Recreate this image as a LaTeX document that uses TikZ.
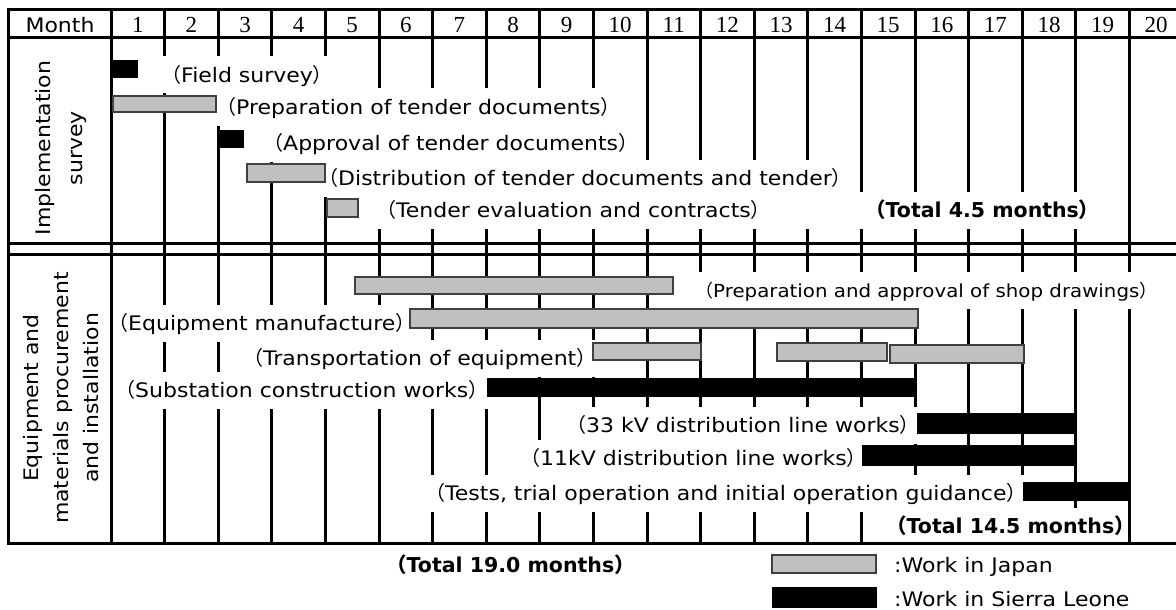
\documentclass[tikz,border=0pt]{standalone}
\usepackage{fontspec}
\newfontfamily\labfont[FakeStretch=1.1]{DejaVu Sans}
\newfontfamily\totfont{DejaVu Sans}
\newfontfamily\cjkfont{Noto Sans CJK JP}
\newfontfamily\numfont{Liberation Serif}
\newcommand\lp{{\cjkfont （}}
\newcommand\rp{{\cjkfont ）}}
\newcommand\labsize{\fontsize{20pt}{24pt}\selectfont}
\newcommand\totsize{\fontsize{20.5pt}{24pt}\selectfont}
\definecolor{barg}{HTML}{C0C0C0}
\begin{document}
\begin{tikzpicture}[x=1pt,y=-1pt,
  gline/.style={line width=3pt},
  fline/.style={line width=3pt, line cap=rect},
  lbl/.style={font=\labfont\labsize, fill=white, anchor=base west, inner xsep=3pt, inner ysep=0pt,
              text height=17pt, text depth=3pt, minimum height=37pt},
  tot/.style={lbl, font=\totfont\bfseries\totsize},
  num/.style={font=\numfont\fontsize{23pt}{26pt}\selectfont, anchor=base, inner sep=0pt},
  side/.style={font=\labfont\labsize, rotate=90, align=center, inner sep=0pt},
  jpbar/.style={fill=barg, draw=black!75, line width=1.3pt},
  slbar/.style={fill=black, draw=black, line width=0.6pt}]
\path[use as bounding box] (0,0) rectangle (1176,610);

% interior month grid lines
\foreach \k in {1,...,18}
  \draw[gline] ({111+53.6*\k},10) -- ({111+53.6*\k},543);

% activity labels (white boxes interrupt the grid)
\def\d{15}
\node[lbl] (fs)  at (173-\d,82)  {\lp Field survey\rp};
\node[lbl] (ptd) at (228-\d,114) {\lp Preparation of tender documents\rp};
\node[lbl] (atd) at (275-\d,150) {\lp Approval of tender documents\rp};
\node[lbl] (dtd) at (330-\d,185) {\lp Distribution of tender documents and tender\rp};
\node[lbl] (tec) at (388-\d,217) {\lp Tender evaluation and contracts\rp};
\node[tot] (tot1) at (877-\d-70,217) {\hspace*{70pt}\lp Total 4.5 months\rp};
\node[lbl] (em)  at (120-\d,330) {\lp Equipment manufacture\rp};
\node[lbl] (te)  at (255-\d,365) {\lp Transportation of equipment\rp};
\node[lbl] (scw) at (127-\d,397) {\lp Substation construction works\rp};
\node[lbl] (kv33) at (578-\d,432) {\lp 33 kV distribution line works\rp};
\node[lbl] (kv11) at (532-\d,465) {\lp 11kV distribution line works\rp};
\node[lbl] (tests) at (437-\d,500) {\lp Tests, trial operation and initial operation guidance\rp};
\node[tot] (tot2) at (898-\d,533) {\lp Total 14.5 months\rp};
\node[tot] (tot3) at (398-\d,572) {\lp Total 19.0 months\rp};

% frame
\draw[fline] (8,10) -- (8,543);
\draw[fline] (111,10) -- (111,543);
\draw[fline] (1129.4,10) -- (1129.4,543);
\foreach \y in {10,38,243,254,543}
  \draw[fline] (8,\y) -- (1176,\y);

% this label also interrupts the month-19 line
\node[lbl, font=\labfont\fontsize{18pt}{22pt}\selectfont] (psd) at (705-13,297) {\lp Preparation and approval of shop drawings\rp};

% header
\node[font=\labfont\labsize, anchor=base, inner sep=0pt] (month) at (60,33) {Month};
\foreach \k in {1,...,20}
  \node[num] (m\k) at ({111+53.6*(\k-0.5)},33) {\k};

% section titles
\node[side, font=\labfont\fontsize{20pt}{32pt}\selectfont] (sec1) at (61,148) {Implementation\\survey};
\node[side, font=\labfont\fontsize{20pt}{30pt}\selectfont] (sec2) at (61,398) {Equipment and\\materials procurement\\and installation};

% bars: implementation survey
\filldraw[slbar] (112,60) rectangle (137,77);
\filldraw[jpbar] (113,96) rectangle (216,112);
\filldraw[slbar] (219,130) rectangle (243,147);
\filldraw[jpbar] (247,164) rectangle (325,182);
\filldraw[jpbar] (327,199) rectangle (358,217);

% bars: procurement and installation
\filldraw[jpbar] (355,277) rectangle (673,294);
\filldraw[jpbar] (410,309) rectangle (918,328);
\filldraw[jpbar] (593,343) rectangle (701,360);
\filldraw[jpbar] (777,343) rectangle (887,361);
\filldraw[jpbar] (890,345) rectangle (1024,363);
\filldraw[slbar] (487,378) rectangle (915,396);
\filldraw[slbar] (917,413) rectangle (1076,433);
\filldraw[slbar] (862,445) rectangle (1076,465);
\filldraw[slbar] (1023,482) rectangle (1128,500);

% legend
\filldraw[jpbar] (772,555) rectangle (876,573);
\filldraw[slbar] (772,587) rectangle (876,607);
\node[font=\labfont\labsize, anchor=base west, inner sep=0pt] (legjp) at (894,572) {:Work in Japan};
\node[font=\labfont\labsize, anchor=base west, inner sep=0pt] (legsl) at (894,606) {:Work in Sierra Leone};
\end{tikzpicture}
\end{document}
